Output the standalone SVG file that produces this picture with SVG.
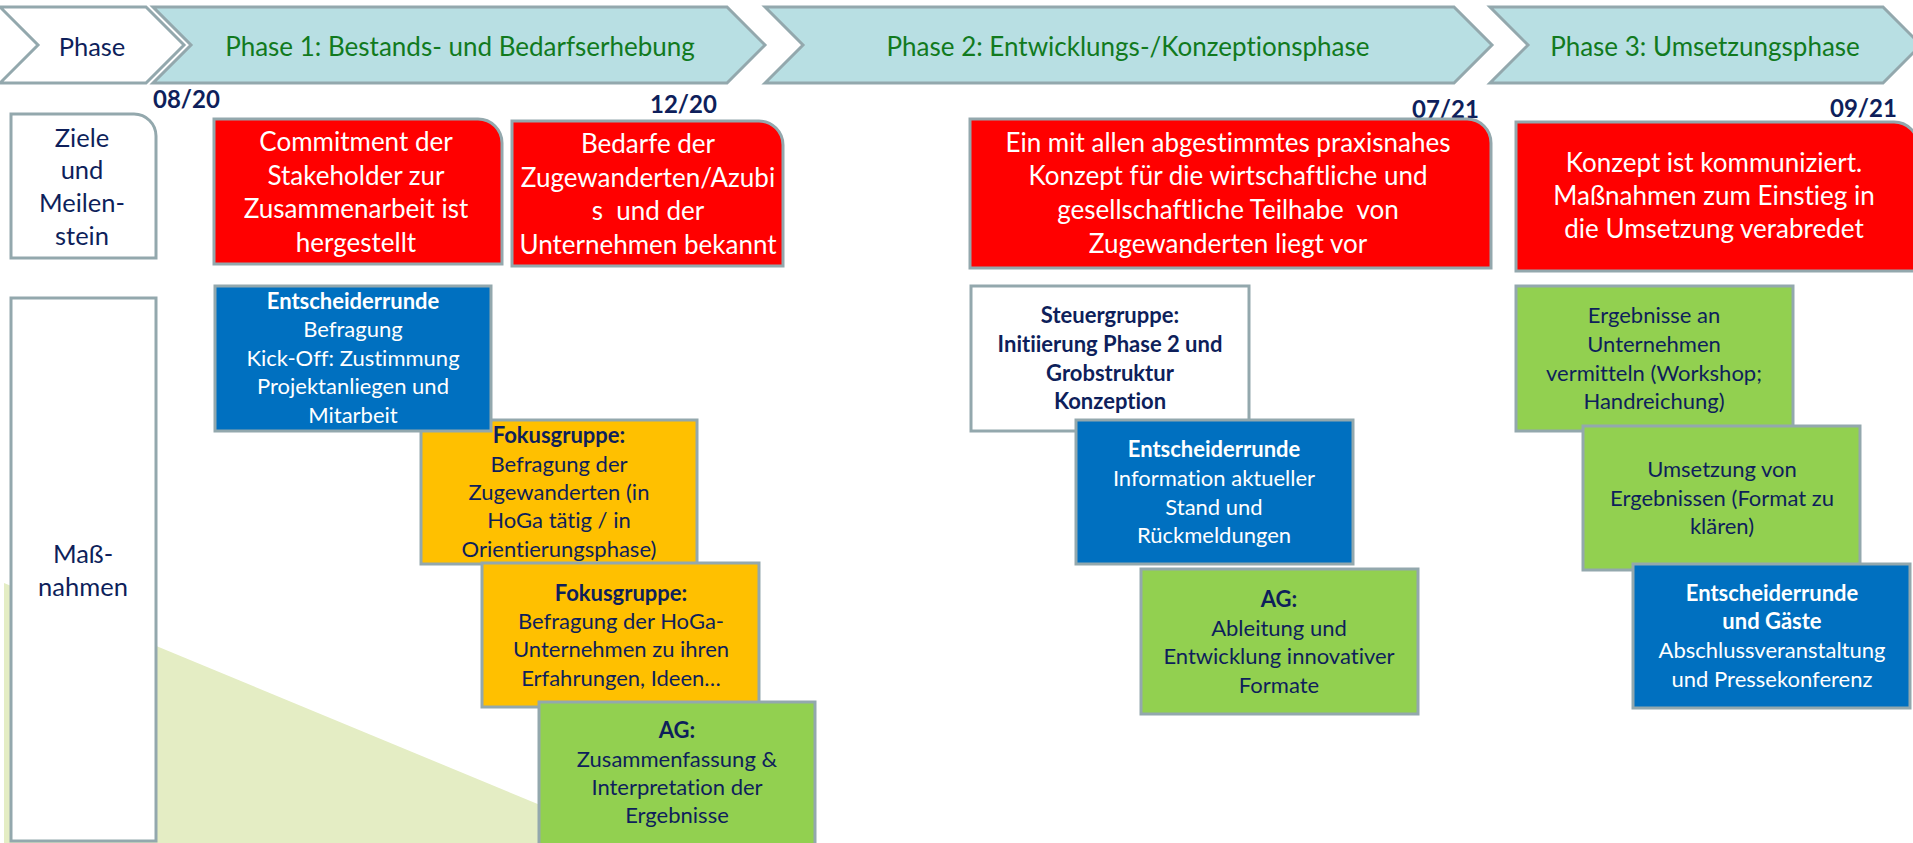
<svg xmlns="http://www.w3.org/2000/svg" width="1913" height="843" viewBox="0 0 1913 843">
<style>
text{font-family:Lato,"Open Sans","Liberation Sans",sans-serif;text-anchor:middle;font-variant-ligatures:none}
.chev{stroke:#93A8AD;stroke-width:3;stroke-linejoin:miter}
.ph{fill:#B8DFE3}
.box{stroke:#93A8AD;stroke-width:3}
.red{fill:#FF0000}
.blue{fill:#0070C0}
.yel{fill:#FFC000}
.grn{fill:#92D050}
.wht{fill:#FFFFFF}
.pt{font-size:26px;fill:#117A1E}
.nav{fill:#0E1F5B}
.w{fill:#FFFFFF}
.rt{font-size:26px;fill:#FFFFFF}
.lt{font-size:25.5px;fill:#0E1F5B}
.mt{font-size:22px}
.b{font-weight:bold}
.date{font-size:24px;font-weight:bold;fill:#0E1F5B;text-anchor:start}
</style>
<polygon points="4,583 632,843 4,843" fill="#E4EDC4"/>

<g id="phase-label">
<polygon class="chev" fill="#FFFFFF" points="0,7 146,7 184,45 146,83 0,83 38,45"/>
<text class="lt" x="92" y="56">Phase</text>
</g>
<g id="phase1">
<polygon class="chev ph" points="153,7 727,7 765,45 727,83 153,83 191,45"/>
<text class="pt" x="460" y="56">Phase 1: Bestands- und Bedarfserhebung</text>
</g>
<g id="phase2">
<polygon class="chev ph" points="765,7 1454,7 1492,45 1454,83 765,83 803,45"/>
<text class="pt" x="1128" y="56">Phase 2: Entwicklungs-/Konzeptionsphase</text>
</g>
<g id="phase3">
<polygon class="chev ph" points="1490,7 1883,7 1921,45 1883,83 1490,83 1528,45"/>
<text class="pt" x="1705" y="56">Phase 3: Umsetzungsphase</text>
</g>

<g id="dates">
<text class="date" x="153" y="108">08/20</text>
<text class="date" x="650" y="113">12/20</text>
<text class="date" x="1412" y="118">07/21</text>
<text class="date" x="1830" y="117">09/21</text>
</g>

<g id="ziele">
<path class="box wht" d="M11,114 H134 A22,22 0 0 1 156,136 V258 H11 Z"/>
<text class="lt" x="82" y="147">Ziele</text>
<text class="lt" x="82" y="179">und</text>
<text class="lt" x="82" y="212">Meilen-</text>
<text class="lt" x="82" y="245">stein</text>
</g>
<g id="massnahmen">
<rect class="box wht" x="11" y="298" width="145" height="543"/>
<text class="lt" x="83" y="563">Maß-</text>
<text class="lt" x="83" y="596">nahmen</text>
</g>

<g id="ms1">
<path class="box red" d="M214,119 H478 A24,24 0 0 1 502,143 V264 H214 Z"/>
<text class="rt" x="356" y="151">Commitment der</text>
<text class="rt" x="356" y="184.5">Stakeholder zur</text>
<text class="rt" x="356" y="218">Zusammenarbeit ist</text>
<text class="rt" x="356" y="251.5">hergestellt</text>
</g>
<g id="ms2">
<path class="box red" d="M512,121 H759 A24,24 0 0 1 783,145 V266 H512 Z"/>
<text class="rt" x="648" y="153">Bedarfe der</text>
<text class="rt" x="648" y="187">Zugewanderten/Azubi</text>
<text class="rt" x="648" y="220" xml:space="preserve">s  und der</text>
<text class="rt" x="648" y="254">Unternehmen bekannt</text>
</g>
<g id="ms3">
<path class="box red" d="M970,119 H1467 A24,24 0 0 1 1491,143 V268 H970 Z"/>
<text class="rt" x="1228" y="152">Ein mit allen abgestimmtes praxisnahes</text>
<text class="rt" x="1228" y="185">Konzept für die wirtschaftliche und</text>
<text class="rt" x="1228" y="219" xml:space="preserve">gesellschaftliche Teilhabe  von</text>
<text class="rt" x="1228" y="253">Zugewanderten liegt vor</text>
</g>
<g id="ms4">
<path class="box red" d="M1516,122 H1894 A24,24 0 0 1 1918,146 V271 H1516 Z"/>
<text class="rt" x="1714" y="172">Konzept ist kommuniziert.</text>
<text class="rt" x="1714" y="205">Maßnahmen zum Einstieg in</text>
<text class="rt" x="1714" y="238">die Umsetzung verabredet</text>
</g>

<g id="p1-fokus1">
<rect class="box yel" x="421" y="420" width="276" height="144"/>
<text class="mt nav b" x="559" y="443">Fokusgruppe:</text>
<text class="mt nav" x="559" y="472">Befragung der</text>
<text class="mt nav" x="559" y="500">Zugewanderten (in</text>
<text class="mt nav" x="559" y="528">HoGa tätig / in</text>
<text class="mt nav" x="559" y="557">Orientierungsphase)</text>
</g>
<g id="p1-entscheider">
<rect class="box blue" x="215" y="286" width="276" height="145"/>
<text class="mt w b" x="353" y="309">Entscheiderrunde</text>
<text class="mt w" x="353" y="337">Befragung</text>
<text class="mt w" x="353" y="366">Kick-Off: Zustimmung</text>
<text class="mt w" x="353" y="394">Projektanliegen und</text>
<text class="mt w" x="353" y="423">Mitarbeit</text>
</g>
<g id="p1-fokus2">
<rect class="box yel" x="482" y="563" width="277" height="144"/>
<text class="mt nav b" x="621" y="601">Fokusgruppe:</text>
<text class="mt nav" x="621" y="629">Befragung der HoGa-</text>
<text class="mt nav" x="621" y="657">Unternehmen zu ihren</text>
<text class="mt nav" x="621" y="686">Erfahrungen, Ideen…</text>
</g>
<g id="p1-ag">
<rect class="box grn" x="539" y="702" width="276" height="145"/>
<text class="mt nav b" x="677" y="738">AG:</text>
<text class="mt nav" x="677" y="767">Zusammenfassung &amp;</text>
<text class="mt nav" x="677" y="795">Interpretation der</text>
<text class="mt nav" x="677" y="823">Ergebnisse</text>
</g>

<g id="p2-steuer">
<rect class="box wht" x="971" y="286" width="278" height="145"/>
<text class="mt nav b" x="1110" y="323">Steuergruppe:</text>
<text class="mt nav b" x="1110" y="352">Initiierung Phase 2 und</text>
<text class="mt nav b" x="1110" y="381">Grobstruktur</text>
<text class="mt nav b" x="1110" y="409">Konzeption</text>
</g>
<g id="p2-entscheider">
<rect class="box blue" x="1076" y="420" width="277" height="144"/>
<text class="mt w b" x="1214" y="457">Entscheiderrunde</text>
<text class="mt w" x="1214" y="486">Information aktueller</text>
<text class="mt w" x="1214" y="515">Stand und</text>
<text class="mt w" x="1214" y="543">Rückmeldungen</text>
</g>
<g id="p2-ag">
<rect class="box grn" x="1141" y="569" width="277" height="145"/>
<text class="mt nav b" x="1279" y="607">AG:</text>
<text class="mt nav" x="1279" y="636">Ableitung und</text>
<text class="mt nav" x="1279" y="664">Entwicklung innovativer</text>
<text class="mt nav" x="1279" y="693">Formate</text>
</g>

<g id="p3-ergebnisse">
<rect class="box grn" x="1516" y="286" width="277" height="145"/>
<text class="mt nav" x="1654" y="323">Ergebnisse an</text>
<text class="mt nav" x="1654" y="352">Unternehmen</text>
<text class="mt nav" x="1654" y="381">vermitteln (Workshop;</text>
<text class="mt nav" x="1654" y="409">Handreichung)</text>
</g>
<g id="p3-umsetzung">
<rect class="box grn" x="1583" y="426" width="277" height="144"/>
<text class="mt nav" x="1722" y="477">Umsetzung von</text>
<text class="mt nav" x="1722" y="506">Ergebnissen (Format zu</text>
<text class="mt nav" x="1722" y="534">klären)</text>
</g>
<g id="p3-entscheider">
<rect class="box blue" x="1633" y="564" width="277" height="144"/>
<text class="mt w b" x="1772" y="601">Entscheiderrunde</text>
<text class="mt w b" x="1772" y="629">und Gäste</text>
<text class="mt w" x="1772" y="658">Abschlussveranstaltung</text>
<text class="mt w" x="1772" y="687">und Pressekonferenz</text>
</g>

<g id="connectors"></g>
</svg>
